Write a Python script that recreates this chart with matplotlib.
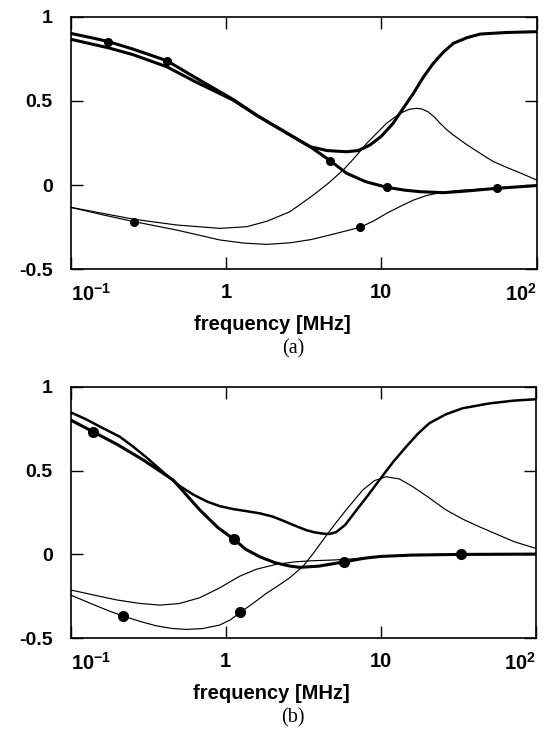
import matplotlib
matplotlib.use("Agg")
import matplotlib.pyplot as plt
from matplotlib.ticker import NullLocator

plt.rcParams['font.family'] = ['Liberation Sans', 'DejaVu Sans']
plt.rcParams['mathtext.fontset'] = 'custom'
plt.rcParams['mathtext.rm'] = 'Liberation Sans'
plt.rcParams['mathtext.bf'] = 'Liberation Sans:bold'

# ---------------- panel (a) ----------------
a_thick1_f = [0.1, 0.141, 0.175, 0.251, 0.415, 0.631, 1.11, 1.585, 2.58, 3.48, 4.68, 5.98,
              7.94, 10.8, 14.1, 17.7, 25.1, 35.5, 55.3, 100]
a_thick1_v = [0.901, 0.872, 0.852, 0.808, 0.739, 0.640, 0.509, 0.413, 0.298, 0.228, 0.145, 0.070,
              0.020, -0.013, -0.030, -0.039, -0.045, -0.035, -0.019, -0.003]
a_thick1_mf = [0.175, 0.415, 4.68, 10.8, 55.3]
a_thick1_mv = [0.852, 0.739, 0.145, -0.013, -0.019]

a_thick2_f = [0.1, 0.175, 0.251, 0.415, 0.631, 1.11, 1.585, 2.58, 3.48, 4.47, 5.98, 7.08, 8.45,
              10.0, 11.9, 13.8, 16.1, 18.6, 21.6, 25.1, 29.1, 35.5, 43.3, 63.1, 100]
a_thick2_v = [0.866, 0.815, 0.775, 0.703, 0.615, 0.505, 0.413, 0.298, 0.228, 0.205, 0.198, 0.205, 0.238,
              0.290, 0.367, 0.455, 0.545, 0.640, 0.723, 0.790, 0.842, 0.875, 0.897, 0.906, 0.911]

a_thin1_f = [0.1, 0.256, 0.482, 0.914, 1.36, 1.83, 2.58, 3.65, 4.57, 5.69, 6.76, 8.05, 10.8,
             12.3, 13.5, 15.1, 16.9, 18.2, 20.0, 21.9, 23.9, 26.3, 28.8, 35.5, 44.7, 52.5, 64.1, 79.4, 100]
a_thin1_v = [-0.132, -0.203, -0.237, -0.257, -0.247, -0.215, -0.158, -0.059, 0.012, 0.090, 0.165, 0.248, 0.367,
             0.405, 0.430, 0.450, 0.456, 0.452, 0.435, 0.405, 0.367, 0.330, 0.300, 0.240, 0.180, 0.140, 0.105,
             0.070, 0.030]

a_thin2_f = [0.1, 0.158, 0.256, 0.482, 0.914, 1.32, 1.83, 2.58, 3.55, 4.68, 7.29, 8.91, 10.8,
             13.2, 16.1, 19.5, 23.9, 31.6, 39.8, 55.3, 100]
a_thin2_v = [-0.132, -0.175, -0.217, -0.267, -0.326, -0.345, -0.352, -0.343, -0.323, -0.296, -0.251, -0.213, -0.168,
             -0.127, -0.089, -0.062, -0.045, -0.032, -0.026, -0.019, -0.003]
a_thin2_mf = [0.256, 7.29]
a_thin2_mv = [-0.217, -0.251]

# ---------------- panel (b) ----------------
b_thick1_f = [0.1, 0.126, 0.158, 0.207, 0.251, 0.316, 0.415, 0.501, 0.617, 0.759, 0.914, 1.122, 1.36,
              1.66, 2.02, 2.29, 2.58, 2.95, 3.31, 3.72, 4.24, 4.68, 5.16, 5.89, 6.95, 8.32, 9.82,
              12.0, 14.6, 17.4, 20.6, 26.3, 33.7, 50.1, 72.6, 100]
b_thick1_v = [0.847, 0.805, 0.757, 0.702, 0.645, 0.570, 0.473, 0.410, 0.357, 0.315, 0.288, 0.270, 0.258,
              0.245, 0.225, 0.205, 0.185, 0.163, 0.145, 0.132, 0.124, 0.122, 0.133, 0.175, 0.262, 0.355, 0.444,
              0.550, 0.642, 0.720, 0.782, 0.835, 0.871, 0.900, 0.917, 0.925]

b_thick2_f = [0.1, 0.139, 0.2, 0.294, 0.458, 0.681, 0.891, 1.13, 1.35, 1.66, 2.09, 2.58, 2.99,
              3.98, 5.84, 7.94, 10.0, 15.8, 31.6, 100]
b_thick2_v = [0.801, 0.732, 0.655, 0.563, 0.444, 0.265, 0.160, 0.090, 0.030, -0.014, -0.050, -0.069, -0.077,
              -0.070, -0.044, -0.022, -0.012, -0.004, 0.000, 0.002]
b_thick2_mf = [0.139, 1.13, 5.84, 33.0]
b_thick2_mv = [0.732, 0.090, -0.044, 0.000]

b_thin1_f = [0.1, 0.126, 0.158, 0.2, 0.279, 0.376, 0.501, 0.681, 0.912, 1.23, 1.58, 2.14, 2.82, 3.55,
             5.01, 6.31, 7.94, 10.0, 20.0, 100]
b_thin1_v = [-0.212, -0.232, -0.252, -0.272, -0.292, -0.302, -0.293, -0.258, -0.200, -0.130, -0.088, -0.058,
             -0.044, -0.038, -0.033, -0.028, -0.020, -0.012, -0.002, 0.000]

b_thin2_f = [0.1, 0.141, 0.178, 0.218, 0.282, 0.355, 0.447, 0.558, 0.708, 0.914, 1.072, 1.245, 1.51, 1.83,
             2.19, 2.58, 3.16, 3.63, 4.24, 5.01, 5.98, 7.66, 9.12, 10.8, 13.2, 16.1, 20.0, 26.4, 33.9, 43.3,
             56.2, 72.6, 100]
b_thin2_v = [-0.242, -0.300, -0.338, -0.367, -0.400, -0.425, -0.441, -0.447, -0.442, -0.421, -0.390, -0.345,
             -0.290, -0.232, -0.185, -0.140, -0.070, 0.000, 0.085, 0.175, 0.265, 0.384, 0.440, 0.463, 0.450,
             0.404, 0.345, 0.265, 0.210, 0.165, 0.120, 0.076, 0.036]
b_thin2_mf = [0.218, 1.245]
b_thin2_mv = [-0.367, -0.345]

xtick_vals = [0.1, 1, 10, 100]
xtick_labels = [r'$\mathbf{10^{-1}}$', '1', '10', r'$\mathbf{10^{2}}$']
ytick_vals = [-0.5, 0, 0.5, 1]
ytick_labels = ['-0.5', '0', '0.5', '1']
xlabel_text = 'frequency [MHz]'
panel_labels = ['(a)', '(b)']

THICK = 2.2
THIN = 0.85

fig = plt.figure(figsize=(5.5, 7.29), dpi=100)
ax_a = fig.add_axes([0.1285, 0.6306, 0.8473, 0.3465])
ax_b = fig.add_axes([0.1285, 0.1244, 0.8455, 0.3452])


def style(ax, label):
    ax.set_xscale('log')
    ax.set_xlim(0.1, 100)
    ax.set_ylim(-0.5, 1)
    ax.xaxis.set_minor_locator(NullLocator())
    ax.set_xticks(xtick_vals, labels=xtick_labels)
    ax.set_yticks(ytick_vals, labels=ytick_labels)
    ax.tick_params(axis='both', which='major', direction='in', length=8.5, width=1.0,
                   top=True, right=True)
    ax.tick_params(axis='x', pad=10, labelsize=14.5)
    ax.tick_params(axis='y', pad=13, labelsize=14)
    for lbl in ax.get_xticklabels() + ax.get_yticklabels():
        lbl.set_fontweight('bold')
    xl = ax.get_xticklabels()
    xl[0].set_horizontalalignment('left')
    xl[-1].set_horizontalalignment('right')
    for s in ax.spines.values():
        s.set_linewidth(1.2)
    ax.text(0.432, -0.218, xlabel_text, transform=ax.transAxes, ha='center', va='center',
            fontsize=14.5, fontweight='bold')
    ax.text(0.477, -0.315, label, transform=ax.transAxes, ha='center', va='center',
            fontsize=14.5, fontfamily='Liberation Serif')


# panel (a)
ax_a.plot(a_thin1_f, a_thin1_v, color='black', lw=THIN)
ax_a.plot(a_thin2_f, a_thin2_v, color='black', lw=THIN)
ax_a.plot(a_thin2_mf, a_thin2_mv, 'o', color='black', ms=5.5)
ax_a.plot(a_thick2_f, a_thick2_v, color='black', lw=THICK)
ax_a.plot(a_thick1_f, a_thick1_v, color='black', lw=THICK)
ax_a.plot(a_thick1_mf, a_thick1_mv, 'o', color='black', ms=5.5)
style(ax_a, panel_labels[0])

# panel (b)
ax_b.plot(b_thin1_f, b_thin1_v, color='black', lw=THIN)
ax_b.plot(b_thin2_f, b_thin2_v, color='black', lw=THIN)
ax_b.plot(b_thin2_mf, b_thin2_mv, 'o', color='black', ms=7)
ax_b.plot(b_thick1_f, b_thick1_v, color='black', lw=1.8)
ax_b.plot(b_thick2_f, b_thick2_v, color='black', lw=THICK)
ax_b.plot(b_thick2_mf, b_thick2_mv, 'o', color='black', ms=7)
style(ax_b, panel_labels[1])

fig.savefig('out.png', dpi=100)
